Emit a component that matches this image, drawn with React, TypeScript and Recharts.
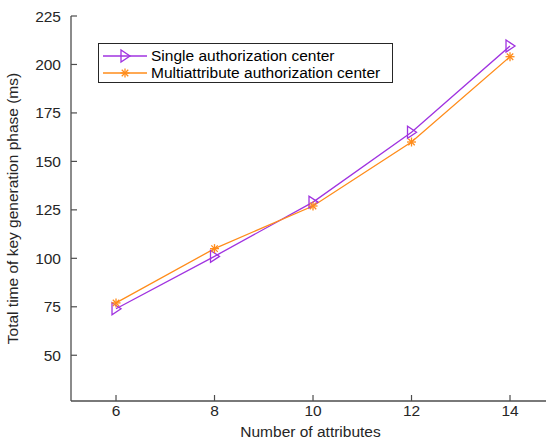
import React from 'react';
import { LineChart, Line, XAxis, YAxis } from 'recharts';

// values
const attributes = [6, 8, 10, 12, 14];
const singleCenter = [74, 101, 129, 165, 209.5];
const multiCenter = [77, 105, 127, 160, 204];
const xTicks = [6, 8, 10, 12, 14];
const yTicks = [50, 75, 100, 125, 150, 175, 200, 225];

const data = attributes.map((n, i) => ({
  n,
  single: singleCenter[i],
  multi: multiCenter[i],
}));

const PURPLE = '#a033e0';
const ORANGE = '#ff8c1a';
const AXIS = '#4d4d4d';
const TEXT = '#262626';
const FONT = '"Liberation Sans", Arial, sans-serif';
const FS = 15.5;

const Triangle = ({ cx, cy, color }: { cx: number; cy: number; color: string }) => (
  <polygon
    points={`${cx - 4},${cy - 6} ${cx - 4},${cy + 6} ${cx + 5},${cy}`}
    fill="none"
    stroke={color}
    strokeWidth={1.3}
  />
);

const Star = ({ cx, cy, color }: { cx: number; cy: number; color: string }) => {
  const r = 4.5;
  const d = r * 0.72;
  return (
    <g stroke={color} strokeWidth={1.3}>
      <line x1={cx - r} y1={cy} x2={cx + r} y2={cy} />
      <line x1={cx} y1={cy - r} x2={cx} y2={cy + r} />
      <line x1={cx - d} y1={cy - d} x2={cx + d} y2={cy + d} />
      <line x1={cx - d} y1={cy + d} x2={cx + d} y2={cy - d} />
    </g>
  );
};

const BottomTick = (props: any) => {
  const { x, y, payload } = props;
  return (
    <g>
      <line x1={x} x2={x} y1={y} y2={y - 6} stroke={AXIS} strokeWidth={1.2} />
      <text x={x} y={y + 15} textAnchor="middle" fill={TEXT} fontSize={FS} fontFamily={FONT}>
        {payload.value}
      </text>
    </g>
  );
};

const TopTick = (props: any) => {
  const { x, y } = props;
  return <line x1={x} x2={x} y1={y} y2={y + 6} stroke={AXIS} strokeWidth={1.2} />;
};

const LeftTick = (props: any) => {
  const { x, y, payload } = props;
  return (
    <g>
      <line x1={x} x2={x + 6} y1={y} y2={y} stroke={AXIS} strokeWidth={1.2} />
      <text x={x - 10} y={y + 5.5} textAnchor="end" fill={TEXT} fontSize={FS} fontFamily={FONT}>
        {payload.value}
      </text>
    </g>
  );
};

const legendItems = [
  { label: 'Single authorization center', color: PURPLE, Mark: Triangle, top: 3 },
  { label: 'Multiattribute authorization center', color: ORANGE, Mark: Star, top: 20 },
];

const LegendBox = () => (
  <div
    style={{
      position: 'absolute',
      left: 98,
      top: 43,
      border: `1.3px solid ${TEXT}`,
      background: '#fff',
      width: 295,
      height: 40,
      fontFamily: FONT,
      fontSize: FS,
      color: '#000',
      boxSizing: 'border-box',
    }}
  >
    {legendItems.map(({ label, color, Mark, top }) => (
      <div key={label} style={{ position: 'absolute', left: 3, top, height: 18, display: 'flex', alignItems: 'center' }}>
        <svg width={49} height={18}>
          <line x1={1} x2={45} y1={9} y2={9} stroke={color} strokeWidth={1.3} />
          <Mark cx={23} cy={9} color={color} />
        </svg>
        <span style={{ lineHeight: '18px' }}>{label}</span>
      </div>
    ))}
  </div>
);

export default function App() {
  return (
    <div style={{ position: 'absolute', left: 0, top: 0, width: 546, height: 442, overflow: 'hidden', background: '#fff' }}>
      <LineChart width={560} height={442} data={data} margin={{ top: 16, right: 10, bottom: 0, left: 0 }}>
        <XAxis
          dataKey="n"
          type="number"
          domain={[5.086, 14.812]}
          allowDataOverflow
          ticks={xTicks}
          tick={<BottomTick />}
          tickLine={false}
          tickSize={0}
          tickMargin={0}
          height={41}
          axisLine={{ stroke: AXIS, strokeWidth: 1.3 }}
          label={{ value: 'Number of attributes', position: 'insideBottom', offset: 5, fill: TEXT, fontSize: FS, fontFamily: FONT }}
        />
        <XAxis
          xAxisId="top"
          orientation="top"
          dataKey="n"
          type="number"
          domain={[5.086, 14.812]}
          allowDataOverflow
          ticks={xTicks}
          tick={<TopTick />}
          tickLine={false}
          tickSize={0}
          tickMargin={0}
          height={0}
          axisLine={{ stroke: AXIS, strokeWidth: 1.3 }}
        />
        <YAxis
          type="number"
          domain={[26.4, 225]}
          allowDataOverflow
          ticks={yTicks}
          tick={<LeftTick />}
          tickLine={false}
          tickSize={0}
          tickMargin={0}
          width={71}
          axisLine={{ stroke: AXIS, strokeWidth: 1.3 }}
          label={{
            value: 'Total time of key generation phase (ms)',
            angle: -90,
            position: 'insideLeft',
            offset: 0,
            dx: 12,
            style: { textAnchor: 'middle' },
            fill: TEXT,
            fontSize: FS,
            fontFamily: FONT,
          }}
        />
        <Line
          dataKey="single"
          name="Single authorization center"
          stroke={PURPLE}
          strokeWidth={1.3}
          isAnimationActive={false}
          dot={(p: any) => <Triangle key={`s-${p.index}`} cx={p.cx} cy={p.cy} color={PURPLE} />}
          activeDot={false}
        />
        <Line
          dataKey="multi"
          name="Multiattribute authorization center"
          stroke={ORANGE}
          strokeWidth={1.3}
          isAnimationActive={false}
          dot={(p: any) => <Star key={`m-${p.index}`} cx={p.cx} cy={p.cy} color={ORANGE} />}
          activeDot={false}
        />
      </LineChart>
      <LegendBox />
    </div>
  );
}
